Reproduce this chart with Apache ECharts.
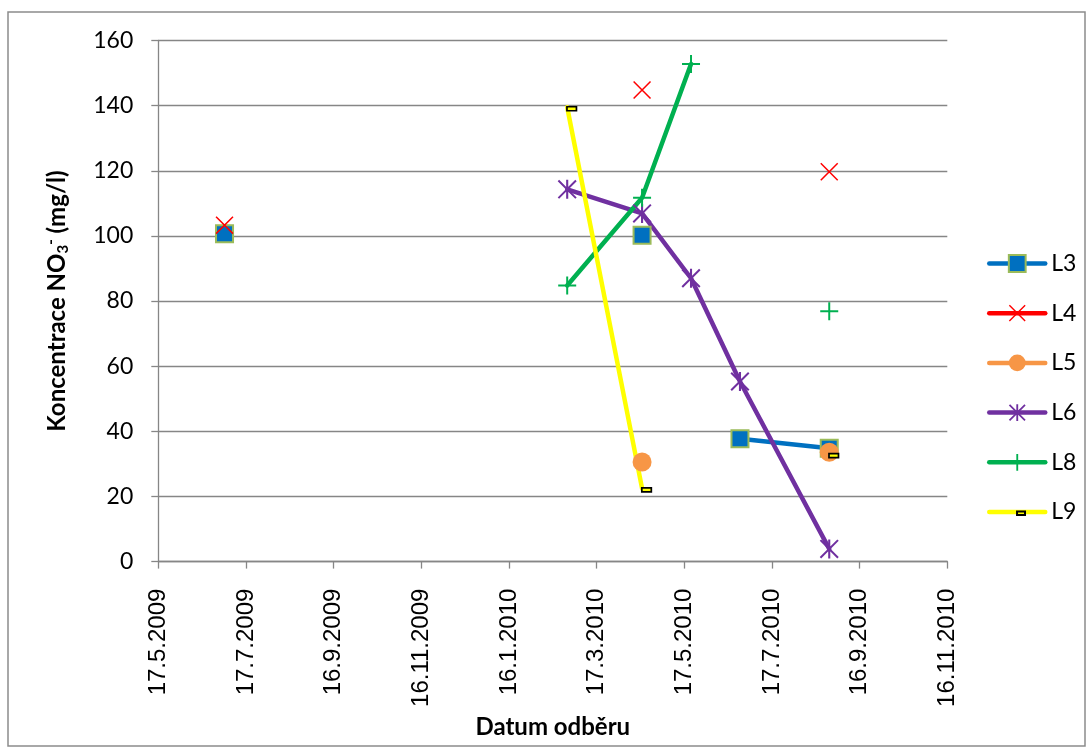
<!DOCTYPE html>
<html>
<head>
<meta charset="utf-8">
<title>Koncentrace NO3-</title>
<script src="https://cdn.jsdelivr.net/npm/echarts@6/dist/echarts.min.js"></script>
<style>
  html, body { margin: 0; padding: 0; background: #ffffff; }
  #chart { width: 1086px; height: 747px; }
</style>
</head>
<body>
<div id="chart"></div>
<script>
// Sampling dates shared by all wells (blank = no measurement)
const sampleDates = ['2009-07-02', '2010-02-25', '2010-04-18', '2010-05-22', '2010-06-25', '2010-08-26'];

// Nitrate concentration per well, mg/l
const L3 = [100.7, null, 100.2, null, 37.7, 34.8];
const L4 = [103.3, null, 144.8, null, null, 119.7];
const L5 = [null, null, 30.6, null, null, 33.6];
const L6 = [null, 114.3, 106.9, 87.0, 55.3, 3.9];
const L8 = [null, 84.8, 111.7, 152.8, null, 76.9];
const L9 = [null, 139.5, 22.5, null, null, 33.0];

// Date axis range and its labels
const axisStart = '2009-05-17';
const axisEnd = '2010-11-16';
const xTickLabels = ['17.5.2009', '17.7.2009', '16.9.2009', '16.11.2009', '16.1.2010',
                     '17.3.2010', '17.5.2010', '17.7.2010', '16.9.2010', '16.11.2010'];
const yTicks = { min: 0, max: 160, step: 20 };

function toDay(s) {
  const p = s.split('-').map(Number);
  const a = axisStart.split('-').map(Number);
  return (Date.UTC(p[0], p[1] - 1, p[2]) - Date.UTC(a[0], a[1] - 1, a[2])) / 86400000;
}

const xMax = toDay(axisEnd);
const xStep = xMax / (xTickLabels.length - 1);

function pairs(values) {
  return sampleDates.map((d, i) => [toDay(d), values[i] == null ? '-' : values[i]]);
}

// Marker shapes
const crossX = 'path://M6,0L100,94L94,100L0,6Z M94,0L100,6L6,100L0,94Z';
const star = 'path://M7.5,0L100,92.5L92.5,100L0,7.5Z M92.5,0L100,7.5L7.5,100L0,92.5Z M44.5,0L55.5,0L55.5,100L44.5,100Z';
const plus = 'path://M0,44.5L100,44.5L100,55.5L0,55.5Z M44.5,0L55.5,0L55.5,100L44.5,100Z';
const smallBox = 'path://M0,0M20,20M9.75,9.5L19.25,9.5L19.25,13.5L9.75,13.5Z';

const LINE_W = 4.5;

function lineSeries(name, values, color, symbol, size, itemStyle) {
  return {
    name: name,
    type: 'line',
    data: pairs(values),
    connectNulls: false,
    showSymbol: true,
    symbol: symbol,
    symbolSize: size,
    lineStyle: { color: color, width: LINE_W, cap: 'round', join: 'round' },
    itemStyle: Object.assign({ color: color }, itemStyle || {}),
    emphasis: { disabled: true },
    animation: false
  };
}

const chart = echarts.init(document.getElementById('chart'), null, { renderer: 'canvas' });

const gridColor = '#868686';

chart.setOption({
  backgroundColor: '#ffffff',
  textStyle: { fontFamily: 'Lato', color: '#000' },
  graphic: [{
    type: 'rect',
    shape: { x: 8, y: 12, width: 1077, height: 734 },
    style: { fill: null, stroke: '#8c8c8c', lineWidth: 1.5 },
    silent: true,
    z: -10
  }],
  grid: { left: 158.3, right: 138.7, top: 40.5, bottom: 185.4 },
  xAxis: {
    type: 'value',
    min: 0,
    max: xMax,
    interval: xStep,
    name: 'Datum odběru',
    nameLocation: 'middle',
    nameGap: 153,
    nameTextStyle: { fontFamily: 'Lato', fontWeight: 'bold', fontSize: 24, color: '#000' },
    axisLine: { show: true, lineStyle: { color: gridColor, width: 1.3 } },
    axisTick: { show: true, length: 7, lineStyle: { color: gridColor, width: 1.3 } },
    splitLine: { show: false },
    axisLabel: {
      rotate: 90,
      margin: 27,
      fontFamily: 'Liberation Sans',
      fontSize: 24,
      color: '#000',
      formatter: function (v) {
        return xTickLabels[Math.round(v / xStep)] || '';
      }
    }
  },
  yAxis: {
    type: 'value',
    min: yTicks.min,
    max: yTicks.max,
    interval: yTicks.step,
    name: 'Koncentrace NO{sub|3}{sup|-} (mg/l)',
    nameLocation: 'middle',
    nameRotate: 90,
    nameGap: 88,
    nameTextStyle: {
      fontFamily: 'Lato', fontWeight: 'bold', fontSize: 24, color: '#000',
      rich: {
        sub: { fontFamily: 'Lato', fontWeight: 'bold', fontSize: 15, color: '#000', padding: [12, 0, 0, 0] },
        sup: { fontFamily: 'Lato', fontWeight: 'bold', fontSize: 15, color: '#000', padding: [0, 0, 12, 0] }
      }
    },
    axisLine: { show: true, lineStyle: { color: gridColor, width: 1.3 } },
    axisTick: { show: true, length: 7, lineStyle: { color: gridColor, width: 1.3 } },
    splitLine: { show: true, lineStyle: { color: gridColor, width: 1.3 } },
    axisLabel: { margin: 25, fontFamily: 'Lato', fontSize: 23, color: '#000' }
  },
  legend: {
    orient: 'vertical',
    left: 987,
    top: 252,
    padding: 0,
    itemWidth: 56,
    itemHeight: 21,
    itemGap: 26.7,
    selectedMode: false,
    textStyle: { fontFamily: 'Lato', fontSize: 23, lineHeight: 21, color: '#000', padding: [0, 0, 0, 1] },
    lineStyle: { width: LINE_W, cap: 'round' },
    data: ['L3', 'L4', 'L5', 'L6', 'L8', 'L9']
  },
  series: [
    lineSeries('L3', L3, '#0070C0', 'rect', 17, { borderColor: '#9BBB59', borderWidth: 2 }),
    lineSeries('L4', L4, '#FF0000', crossX, 18),
    lineSeries('L5', L5, '#F79646', 'circle', 19),
    lineSeries('L6', L6, '#7030A0', star, 19),
    lineSeries('L8', L8, '#00B050', plus, 18),
    lineSeries('L9', L9, '#FFFF00', smallBox, 20, { borderColor: '#000000', borderWidth: 1.7 })
  ]
});
</script>
</body>
</html>
